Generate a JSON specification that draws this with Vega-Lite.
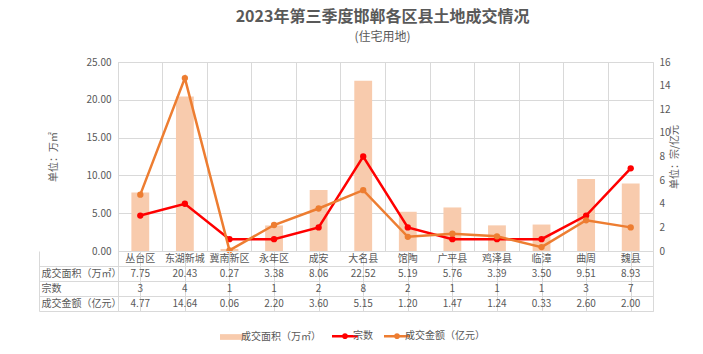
{
  "$schema": "https://vega.github.io/schema/vega-lite/v6.json",
  "background": "white",
  "autosize": {"type": "pad"},
  "padding": {"left": 38, "top": 8, "right": 10, "bottom": 5},
  "title": {
    "text": "2023年第三季度邯郸各区县土地成交情况",
    "subtitle": "(住宅用地)",
    "anchor": "middle",
    "frame": "group",
    "dx": -3,
    "font": "Noto Sans CJK SC",
    "fontSize": 16,
    "fontWeight": "bold",
    "color": "#595959",
    "subtitleFont": "Noto Sans CJK SC",
    "subtitleFontSize": 12,
    "subtitleColor": "#595959",
    "subtitlePadding": 7,
    "offset": 14
  },
  "datasets": {
    "d": [
      {"区县": "丛台区", "成交面积": 7.75, "宗数": 3, "成交金额": 4.77},
      {"区县": "东湖新城", "成交面积": 20.43, "宗数": 4, "成交金额": 14.64},
      {"区县": "冀南新区", "成交面积": 0.27, "宗数": 1, "成交金额": 0.06},
      {"区县": "永年区", "成交面积": 3.38, "宗数": 1, "成交金额": 2.20},
      {"区县": "成安", "成交面积": 8.06, "宗数": 2, "成交金额": 3.60},
      {"区县": "大名县", "成交面积": 22.52, "宗数": 8, "成交金额": 5.15},
      {"区县": "馆陶", "成交面积": 5.19, "宗数": 2, "成交金额": 1.20},
      {"区县": "广平县", "成交面积": 5.76, "宗数": 1, "成交金额": 1.47},
      {"区县": "鸡泽县", "成交面积": 3.39, "宗数": 1, "成交金额": 1.24},
      {"区县": "临漳", "成交面积": 3.50, "宗数": 1, "成交金额": 0.33},
      {"区县": "曲周", "成交面积": 9.51, "宗数": 3, "成交金额": 2.60},
      {"区县": "魏县", "成交面积": 8.93, "宗数": 7, "成交金额": 2.00}
    ]
  },
  "data": {"name": "d"},
  "spacing": 0,
  "bounds": "flush",
  "vconcat": [
    {
      "width": 535,
      "height": 189,
      "layer": [
        {
          "mark": {"type": "bar", "width": {"band": 0.4}},
          "encoding": {
            "x": {"field": "区县", "type": "nominal", "sort": null,
              "scale": {"paddingInner": 0, "paddingOuter": 0},
              "axis": {"labels": false, "ticks": false, "domain": false, "title": null, "grid": true, "bandPosition": 0, "gridColor": "#d9d9d9"}},
            "y": {"field": "成交面积", "type": "quantitative",
              "scale": {"domain": [0, 25]},
              "axis": {"values": [0, 5, 10, 15, 20, 25], "format": ".2f", "title": "单位：万㎡", "grid": true, "gridColor": "#d9d9d9", "domain": false, "ticks": false, "labelPadding": 7, "titlePadding": 28}},
            "color": {"datum": "成交面积（万㎡）",
              "scale": {"domain": ["成交面积（万㎡）", "宗数", "成交金额（亿元）"], "range": ["#F8CBAD", "#FF0000", "#ED7D31"]},
              "legend": {
                "title": null,
                "orient": "none",
                "direction": "horizontal",
                "legendX": 110,
                "legendY": 269,
                "symbolSize": 676,
                "columnPadding": 6,
                "labelOffset": 3,
                "encode": {
                  "symbols": {
                    "update": {
                      "shape": {"signal": "datum.value === '成交面积（万㎡）' ? 'M-1,-0.22H1V0.22H-1Z' : 'M-1,0H1M0.13,0A0.13,0.13 0 1 1 -0.13,0A0.13,0.13 0 1 1 0.13,0Z'"},
                      "fill": {"scale": "color", "field": "value"},
                      "stroke": {"scale": "color", "field": "value"},
                      "strokeWidth": {"signal": "datum.value === '成交面积（万㎡）' ? 0 : 2.5"},
                      "opacity": {"value": 1}
                    }
                  }
                }
              }}
          }
        },
        {
          "encoding": {
            "x": {"field": "区县", "type": "nominal", "sort": null}
          },
          "layer": [
            {
              "mark": {"type": "line", "strokeWidth": 2.5, "point": {"filled": true, "size": 40}},
              "encoding": {
                "y": {"field": "宗数", "type": "quantitative",
                  "scale": {"domain": [0, 16]},
                  "axis": {"orient": "right", "values": [0, 2, 4, 6, 8, 10, 12, 14, 16], "title": "单位：宗/亿元", "titleAngle": -90, "grid": false, "domain": false, "ticks": false, "labelPadding": 6, "titlePadding": 9}},
                "color": {"datum": "宗数"}
              }
            },
            {
              "mark": {"type": "line", "strokeWidth": 2.5, "point": {"filled": true, "size": 40}},
              "encoding": {
                "y": {"field": "成交金额", "type": "quantitative",
                  "axis": {"orient": "right", "values": [0, 2, 4, 6, 8, 10, 12, 14, 16], "title": "单位：宗/亿元", "titleAngle": -90, "grid": false, "domain": false, "ticks": false, "labelPadding": 6, "titlePadding": 9}},
                "color": {"datum": "成交金额（亿元）"}
              }
            }
          ]
        }
      ],
      "resolve": {"scale": {"y": "independent"}}
    },
    {
      "width": 535,
      "height": 60,
      "encoding": {
        "x": {"field": "区县", "type": "nominal", "sort": null,
          "scale": {"paddingInner": 0, "paddingOuter": 0},
          "axis": {"labels": false, "ticks": false, "domain": false, "title": null, "grid": true, "bandPosition": 0, "gridColor": "#d9d9d9"}}
      },
      "layer": [
        {
          "mark": {"type": "text"},
          "encoding": {
            "y": {"datum": "区县", "type": "nominal",
              "scale": {"type": "band", "domain": ["区县", "成交面积（万㎡）", "宗数", "成交金额（亿元）"], "paddingInner": 0, "paddingOuter": 0},
              "axis": {"orient": "left", "title": null, "offset": 79, "tickSize": -79, "bandPosition": 1, "labelAlign": "left", "labelPadding": 77, "labelBaseline": "middle",
                "labelExpr": "datum.value === '区县' ? '' : datum.value",
                "domain": true, "domainColor": "#d9d9d9", "tickColor": "#d9d9d9", "grid": true, "gridColor": "#d9d9d9"}},
            "text": {"field": "区县"}
          }
        },
        {
          "mark": {"type": "text"},
          "encoding": {
            "y": {"datum": "成交面积（万㎡）", "type": "nominal"},
            "text": {"field": "成交面积", "format": ".2f"}
          }
        },
        {
          "mark": {"type": "text"},
          "encoding": {
            "y": {"datum": "宗数", "type": "nominal"},
            "text": {"field": "宗数"}
          }
        },
        {
          "mark": {"type": "text"},
          "encoding": {
            "y": {"datum": "成交金额（亿元）", "type": "nominal"},
            "text": {"field": "成交金额", "format": ".2f"}
          }
        }
      ]
    }
  ],
  "config": {
    "font": "Noto Sans CJK SC",
    "view": {"stroke": "#d9d9d9"},
    "axis": {"labelFont": "Noto Sans CJK SC", "labelFontSize": 10, "labelColor": "#595959", "titleFont": "Noto Sans CJK SC", "titleFontSize": 10, "titleColor": "#595959", "titleFontWeight": "normal"},
    "legend": {"labelFont": "Noto Sans CJK SC", "labelFontSize": 10, "labelColor": "#595959"},
    "text": {"font": "Noto Sans CJK SC", "fontSize": 10, "color": "#595959"}
  }
}
